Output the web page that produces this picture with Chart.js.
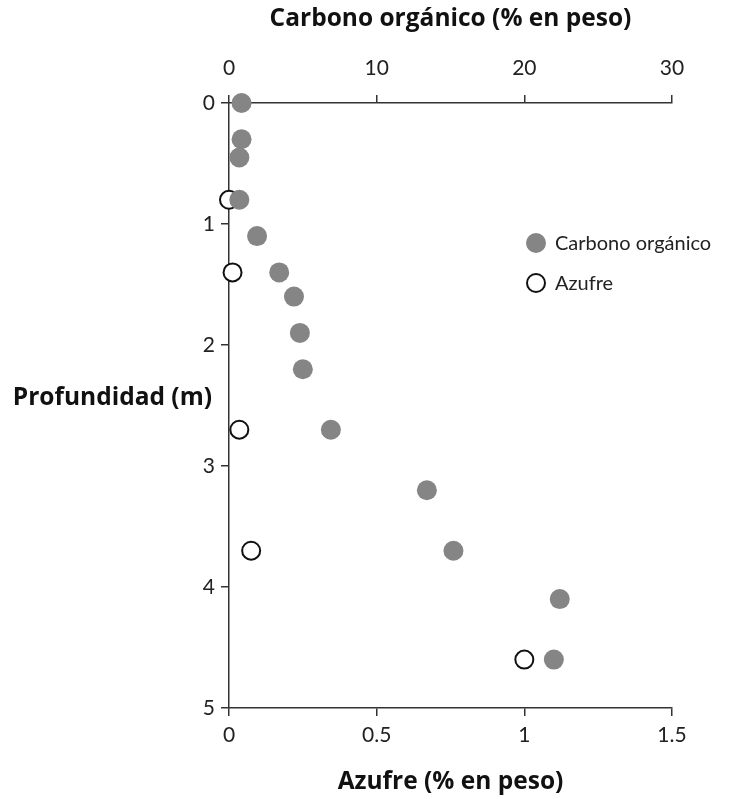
<!DOCTYPE html>
<html lang="es">
<head>
<meta charset="utf-8">
<title>Carbono orgánico y azufre vs profundidad</title>
<script src="https://cdn.jsdelivr.net/npm/chart.js@4.4.1/dist/chart.umd.min.js"></script>
<style>
  html, body { margin: 0; padding: 0; background: #fff; }
  #wrap { width: 742px; height: 799px; position: relative; }
</style>
</head>
<body>
<div id="wrap"><canvas id="perfilChart" width="742" height="799"></canvas></div>
<script>
// datos
const carbonoProf = [0.0, 0.3, 0.45, 0.8, 1.1, 1.4, 1.6, 1.9, 2.2, 2.7, 3.2, 3.7, 4.1, 4.6];
const carbonoVal  = [0.85, 0.85, 0.7, 0.7, 1.9, 3.4, 4.4, 4.8, 5.0, 6.9, 13.4, 15.2, 22.4, 22.0];

const azufreProf = [0.8, 1.4, 2.7, 3.7, 4.6];
const azufreVal  = [0.0, 0.012, 0.035, 0.075, 1.0];

const carbonoTicks = [0, 10, 20, 30];
const azufreTicks = [0, 0.5, 1, 1.5];
const profTicks = [0, 1, 2, 3, 4, 5];

const fuente = "Lato, 'Open Sans', sans-serif";
const fuenteTitulo = "'Open Sans', Lato, sans-serif";
const colorEje = '#333';

// titulo horizontal del eje y + leyenda a mano
const extras = {
  id: 'extras',
  afterDraw(chart) {
    const ctx = chart.ctx;
    const yScale = chart.scales.y;
    ctx.save();
    ctx.fillStyle = '#111';
    ctx.font = "bold 24.5px " + fuenteTitulo;
    ctx.textAlign = 'right';
    ctx.textBaseline = 'middle';
    ctx.fillText('Profundidad (m)', 212, yScale.getPixelForValue(2.44));

    const ds = chart.data.datasets;
    const items = [
      { ds: ds[0], x: 536, y: 243 },
      { ds: ds[1], x: 536, y: 283 }
    ];
    ctx.font = "20px " + fuente;
    ctx.textAlign = 'left';
    items.forEach(it => {
      ctx.beginPath();
      ctx.arc(it.x, it.y, it.ds.pointRadius, 0, Math.PI * 2);
      ctx.fillStyle = it.ds.backgroundColor;
      ctx.fill();
      if (it.ds.borderWidth) {
        ctx.lineWidth = it.ds.borderWidth;
        ctx.strokeStyle = it.ds.borderColor;
        ctx.stroke();
      }
      ctx.fillStyle = '#222';
      ctx.fillText(it.ds.label, it.x + 19, it.y + 1);
    });
    ctx.restore();
  }
};

function ejeTicks(padding) {
  return {
    color: '#222',
    font: { family: fuente, size: 21 },
    autoSkip: false,
    padding: padding,
    callback: v => v
  };
}

document.addEventListener("DOMContentLoaded", function () {
  const ctx = document.getElementById('perfilChart').getContext('2d');

  new Chart(ctx, {
    type: 'scatter',
    data: {
      datasets: [{
        label: 'Carbono orgánico',
        data: carbonoVal.map((v, i) => ({ x: v, y: carbonoProf[i] })),
        xAxisID: 'xC',
        backgroundColor: '#858585',
        borderWidth: 0,
        pointRadius: 10,
        pointHoverRadius: 10,
        clip: false
      }, {
        label: 'Azufre',
        data: azufreVal.map((v, i) => ({ x: v, y: azufreProf[i] })),
        xAxisID: 'xS',
        backgroundColor: '#ffffff',
        borderColor: '#111',
        borderWidth: 2,
        pointRadius: 9,
        pointHoverRadius: 9,
        clip: false
      }]
    },
    options: {
      responsive: false,
      animation: false,
      layout: { padding: { left: 0, right: 70, top: 0, bottom: 0 } },
      plugins: {
        legend: { display: false },
        tooltip: { enabled: false }
      },
      scales: {
        xC: {
          type: 'linear',
          position: 'top',
          min: 0, max: 30,
          afterBuildTicks: s => { s.ticks = carbonoTicks.map(v => ({ value: v })); },
          afterFit: s => { s.height = 103; },
          grid: { drawOnChartArea: false, drawTicks: true, tickLength: 8, color: colorEje, lineWidth: 1.5 },
          border: { display: true, color: colorEje, width: 1.5 },
          ticks: ejeTicks(14),
          title: {
            display: true,
            text: 'Carbono orgánico (% en peso)',
            color: '#111',
            font: { family: fuenteTitulo, size: 24.5, weight: 'bold' },
            padding: { top: 4, bottom: 0 }
          }
        },
        xS: {
          type: 'linear',
          position: 'bottom',
          min: 0, max: 1.5,
          afterBuildTicks: s => { s.ticks = azufreTicks.map(v => ({ value: v })); },
          afterFit: s => { s.height = 91; },
          grid: { drawOnChartArea: false, drawTicks: true, tickLength: 8, color: colorEje, lineWidth: 1.5 },
          border: { display: true, color: colorEje, width: 1.5 },
          ticks: ejeTicks(7),
          title: {
            display: true,
            text: 'Azufre (% en peso)',
            color: '#111',
            font: { family: fuenteTitulo, size: 24.5, weight: 'bold' },
            padding: { top: 0, bottom: 2 }
          }
        },
        y: {
          type: 'linear',
          reverse: true,
          min: 0, max: 5,
          afterBuildTicks: s => { s.ticks = profTicks.map(v => ({ value: v })); },
          afterFit: s => { s.width = 229; },
          grid: { drawOnChartArea: false, drawTicks: true, tickLength: 8, color: colorEje, lineWidth: 1.5 },
          border: { display: true, color: colorEje, width: 1.5 },
          ticks: ejeTicks(6),
          title: { display: false }
        }
      }
    },
    plugins: [extras]
  });
});
</script>
</body>
</html>
